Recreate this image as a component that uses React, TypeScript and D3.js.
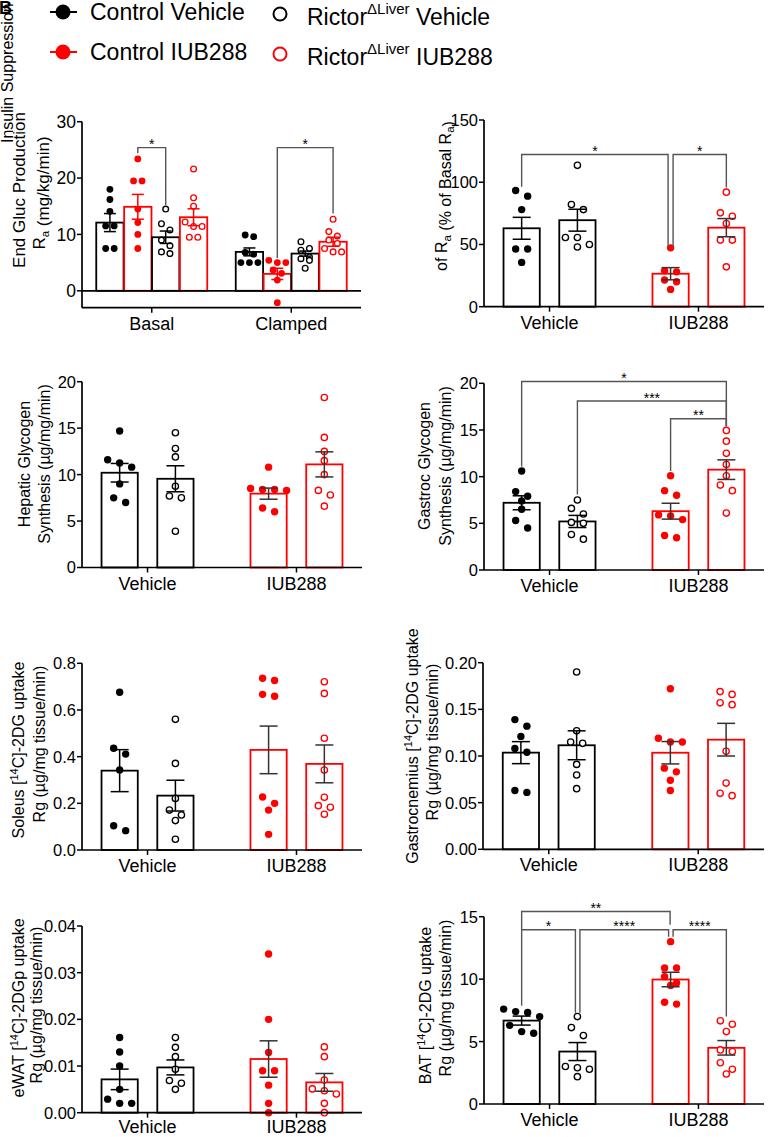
import React from "react";
import * as d3 from "d3";

const FONT = "'Liberation Sans', Arial, Helvetica, sans-serif";
const RED = "#ff0000";
const BLK = "#000000";

type Kind = "cv" | "rv" | "ci" | "ri";
const STYLE: Record<Kind, { color: string; filled: boolean }> = {
  cv: { color: BLK, filled: true },
  rv: { color: BLK, filled: false },
  ci: { color: RED, filled: true },
  ri: { color: RED, filled: false },
};

// ---------- Panel A: endogenous glucose production ----------
const aGroups = ["Basal", "Clamped"];
const aSeries: Kind[] = ["cv", "ci", "rv", "ri"];
const aMeans = [12.1, 14.9, 9.5, 13.05, 6.9, 3.0, 6.6, 8.7];
const aSem = [1.6, 2.2, 1.1, 1.5, 0.7, 1.0, 0.45, 0.8];
const aPoints = [
  [18.0, 16.2, 14.1, 11.5, 11.5, 7.5, 7.5],
  [23.4, 19.5, 19.5, 14.5, 12.1, 10.0, 7.5],
  [14.5, 11.9, 10.8, 9.0, 8.0, 6.6, 6.9],
  [21.6, 16.5, 15.0, 12.2, 11.4, 11.4, 9.5, 9.5],
  [9.6, 9.9, 6.8, 6.5, 5.0, 5.0, 5.0],
  [5.0, 5.0, 5.4, 3.7, 3.1, 1.9, -2.1],
  [7.5, 8.7, 7.2, 5.7, 6.0, 5.4, 4.0],
  [12.7, 9.7, 10.5, 9.0, 6.9, 7.5, 6.9, 8.4],
];
const aTicks = [0, 10, 20, 30];
const aBrackets = [
  { from: 1, to: 2, y: 25.4, l1: 24.4, l2: 15.2, label: "*" },
  { from: 5, to: 7, y: 25.4, l1: 5.8, l2: 13.7, label: "*" },
];

// shared for two-group panels (bar order: Vehicle ctrl, Vehicle rictor, IUB288 ctrl, IUB288 rictor)
const groups2 = ["Vehicle", "IUB288"];
const series2: Kind[] = ["cv", "rv", "ci", "ri"];

// ---------- Panel B: insulin suppression of Ra ----------
const bMeans = [63, 69.5, 26.5, 63.5];
const bSem = [8.8, 8.8, 4.9, 7.3];
const bPoints = [
  [93.3, 88.8, 78, 46.3, 46.3, 35.6],
  [113.6, 82.1, 78, 55.6, 55.6, 48, 50],
  [47.3, 28.9, 28, 21.4, 20, 13.9],
  [92, 72.7, 75.4, 66.8, 53.5, 53.5, 32],
];
const bTicks = [0, 50, 100, 150];
const bBrackets = [
  { from: 0, to: 2, y: 122.3, l1: 96.3, l2: 48.2, label: "*", dx2: -2.5 },
  { from: 2, to: 3, y: 122.3, l1: 48.2, l2: 95.8, label: "*", dx1: 2.5 },
];

// ---------- Panel C: hepatic glycogen synthesis ----------
const cMeans = [10.2, 9.55, 7.95, 11.1];
const cSem = [1.0, 1.4, 0.6, 1.35];
const cPoints = [
  [14.7, 11.25, 10.8, 11.6, 9.0, 7.0, 7.5],
  [14.5, 12.8, 11.9, 8.75, 7.7, 7.5, 3.9],
  [10.8, 8.3, 8.4, 8.5, 8.4, 6.0, 6.4],
  [18.3, 14.0, 12.5, 11.5, 10.0, 8.3, 7.8, 6.6],
];
const cTicks = [0, 5, 10, 15, 20];

// ---------- Panel D: gastroc glycogen synthesis ----------
const dMeans = [7.2, 5.2, 6.3, 10.75];
const dSem = [0.75, 0.65, 0.85, 1.05];
const dPoints = [
  [10.6, 7.9, 8.4, 7.4, 6.5, 5.3, 4.5],
  [7.5, 6.6, 6.0, 5.1, 5.0, 3.3, 3.8],
  [10.1, 8.0, 8.5, 5.8, 5.9, 5.4, 3.45, 3.7],
  [14.95, 13.8, 12.5, 11.3, 10.1, 9.1, 8.5, 6.1],
];
const dTicks = [0, 5, 10, 15, 20];
const dBrackets = [
  { from: 0, to: 3, y: 20.2, l1: 11.1, l2: 15.4, label: "*" },
  { from: 1, to: 3, y: 18.1, l1: 8.1, l2: 15.4, label: "***" },
  { from: 2, to: 3, y: 16.2, l1: 10.6, l2: 15.4, label: "**" },
];

// ---------- Panel E: soleus uptake ----------
const eMeans = [0.34, 0.233, 0.429, 0.369];
const eSem = [0.09, 0.066, 0.102, 0.081];
const ePoints = [
  [0.676, 0.436, 0.411, 0.343, 0.104, 0.083],
  [0.56, 0.371, 0.221, 0.15, 0.171, 0.126, 0.046],
  [0.736, 0.726, 0.667, 0.659, 0.2, 0.227, 0.171, 0.067],
  [0.721, 0.671, 0.479, 0.343, 0.226, 0.19, 0.183, 0.153],
];
const eTicks = [0, 0.2, 0.4, 0.6, 0.8];

// ---------- Panel F: gastrocnemius uptake ----------
const fMeans = [0.1036, 0.1115, 0.1035, 0.1175];
const fSem = [0.0118, 0.0155, 0.012, 0.0175];
const fPoints = [
  [0.139, 0.132, 0.121, 0.104, 0.108, 0.061, 0.063],
  [0.19, 0.127, 0.115, 0.1136, 0.091, 0.0796, 0.065],
  [0.172, 0.119, 0.115, 0.115, 0.083, 0.087, 0.074, 0.063],
  [0.166, 0.169, 0.155, 0.157, 0.105, 0.071, 0.0575, 0.06],
];
const fTicks = [0, 0.05, 0.1, 0.15, 0.2];

// ---------- Panel G: eWAT uptake ----------
const gMeans = [0.00714, 0.0097, 0.0115, 0.0065];
const gSem = [0.0022, 0.0016, 0.0039, 0.0019];
const gPoints = [
  [0.0161, 0.013, 0.01, 0.005, 0.0029, 0.002, 0.002],
  [0.0161, 0.014, 0.012, 0.0093, 0.0063, 0.0069, 0.005],
  [0.034, 0.02, 0.0129, 0.009, 0.009, 0.0059, 0.002, 0.0],
  [0.0141, 0.012, 0.007, 0.0051, 0.0047, 0.004, 0.002, 0.0],
];
const gTicks = [0, 0.01, 0.02, 0.03, 0.04];

// ---------- Panel H: BAT uptake ----------
const hMeans = [6.68, 4.2, 9.97, 4.5];
const hSem = [0.36, 0.72, 0.58, 0.58];
const hPoints = [
  [7.0, 7.6, 7.33, 7.4, 6.3, 5.67, 5.8],
  [7.0, 6.12, 5.48, 3.0, 2.9, 2.78, 2.19],
  [13.0, 10.9, 10.9, 10.2, 9.7, 9.5, 8.0, 8.15],
  [6.66, 6.39, 5.8, 4.33, 4.2, 3.3, 2.78, 2.4],
];
const hTicks = [0, 5, 10, 15];
const hBrackets = [
  { from: 0, to: 2, y: 15.42, l1: 13.95, l2: 14.35, label: "**", dx2: -0.5 },
  { from: 0, to: 1, y: 13.95, l1: 7.86, l2: 7.3, label: "*", dx2: -2 },
  { from: 1, to: 2, y: 13.95, l1: 7.3, l2: 13.4, label: "****", dx1: 2.5, dx2: -2 },
  { from: 2, to: 3, y: 13.95, l1: 13.4, l2: 7.0, label: "****", dx1: 2.5 },
];

type Bracket = { from: number; to: number; y: number; l1: number; l2: number; label: string; dx1?: number; dx2?: number };

function dotOffsets(vals: number[], yS: (v: number) => number, r: number, spacing: number) {
  const idx = vals.map((_, i) => i).sort((a, b) => vals[b] - vals[a]);
  const offs = new Array(vals.length).fill(0);
  let row: number[] = [];
  let start = 0;
  const flush = () => {
    row.forEach((i, k) => {
      offs[i] = (k - (row.length - 1) / 2) * spacing;
    });
  };
  for (const i of idx) {
    const py = yS(vals[i]);
    if (row.length && py - start < 2 * r + 0.6) row.push(i);
    else {
      flush();
      row = [i];
      start = py;
    }
  }
  flush();
  return offs;
}

type PanelProps = {
  groups: string[];
  series: Kind[];
  perGroup: number;
  means: number[];
  sems: number[];
  points: number[][];
  ticks: number[];
  fmt: string;
  domain: [number, number];
  left: number;
  right: number;
  top: number;
  bottom: number;
  groupPad: number;
  half: number;
  subPad: number;
  cap: number;
  r: number;
  spacing: number;
  tickFs: number;
  catFs: number;
  catDy?: number;
  errColored?: boolean;
  zeroLine?: boolean;
  brackets?: Bracket[];
};

function Panel(p: PanelProps) {
  const y = d3.scaleLinear().domain(p.domain).range([p.bottom, p.top]);
  const xg = d3.scalePoint<string>().domain(p.groups).range([p.left, p.right]).padding(p.groupPad);
  const n = p.perGroup;
  const xs = d3
    .scaleBand<number>()
    .domain(d3.range(n))
    .range([-p.half, p.half])
    .paddingInner(p.subPad);
  const bw = xs.bandwidth();
  const kind = (i: number) => STYLE[p.series[i % p.series.length]];
  const cx = (i: number) => (xg(p.groups[Math.floor(i / n)]) as number) + (xs(i % n) as number) + bw / 2;
  const base = y(Math.max(0, p.domain[0]));
  const f = d3.format(p.fmt);
  return (
    <g fontFamily={FONT}>
      {p.means.map((m, i) => {
        const st = kind(i);
        return (
          <rect
            key={"b" + i}
            x={cx(i) - bw / 2}
            y={Math.min(y(m), base)}
            width={bw}
            height={Math.abs(base - y(m))}
            fill="#fff"
            stroke={st.color}
            strokeWidth={1.8}
          />
        );
      })}
      {p.points.map((vals, i) => {
        const st = kind(i);
        const offs = dotOffsets(vals, y, p.r, p.spacing);
        return vals.map((v, k) =>
          st.filled ? (
            <circle key={"p" + i + "_" + k} cx={cx(i) + offs[k]} cy={y(v)} r={p.r} fill={st.color} />
          ) : (
            <circle
              key={"p" + i + "_" + k}
              cx={cx(i) + offs[k]}
              cy={y(v)}
              r={p.r - 0.55}
              fill="#fff"
              stroke={st.color}
              strokeWidth={1.35}
            />
          )
        );
      })}
      {p.means.map((m, i) => {
        const st = kind(i);
        const c = p.errColored ? st.color : st.color === RED ? "#333" : BLK;
        const x = cx(i);
        const y1 = y(m + p.sems[i]);
        const y2 = y(m - p.sems[i]);
        return (
          <g key={"e" + i} stroke={c} strokeWidth={1.5} fill="none">
            <line x1={x} x2={x} y1={y1} y2={y2} />
            <line x1={x - p.cap} x2={x + p.cap} y1={y1} y2={y1} />
            <line x1={x - p.cap} x2={x + p.cap} y1={y2} y2={y2} />
          </g>
        );
      })}
      {p.zeroLine && <line x1={p.left} x2={p.right} y1={y(0)} y2={y(0)} stroke={BLK} strokeWidth={1.7} />}
      <line x1={p.left} x2={p.left} y1={y(p.domain[1])} y2={p.bottom} stroke={BLK} strokeWidth={1.7} />
      <line x1={p.left} x2={p.right} y1={p.bottom} y2={p.bottom} stroke={BLK} strokeWidth={1.7} />
      {p.ticks.map((t) => (
        <g key={"t" + t}>
          <line x1={p.left - 5} x2={p.left} y1={y(t)} y2={y(t)} stroke={BLK} strokeWidth={1.5} />
          <text x={p.left - 6} y={y(t)} dy="0.36em" textAnchor="end" fontSize={p.tickFs} fill={BLK}>
            {f(t)}
          </text>
        </g>
      ))}
      {p.groups.map((g) => (
        <g key={"g" + g}>
          <line x1={xg(g)} x2={xg(g)} y1={p.bottom} y2={p.bottom + 5} stroke={BLK} strokeWidth={1.5} />
          <text x={xg(g)} y={p.bottom + (p.catDy ?? 22)} textAnchor="middle" fontSize={p.catFs} fill={BLK}>
            {g}
          </text>
        </g>
      ))}
      {(p.brackets || []).map((b, i) => {
        const xa = cx(b.from) + (b.dx1 || 0);
        const xb = cx(b.to) + (b.dx2 || 0);
        return (
          <g key={"s" + i}>
            <path
              d={`M${xa},${y(b.l1)}V${y(b.y)}H${xb}V${y(b.l2)}`}
              fill="none"
              stroke="#555"
              strokeWidth={1.4}
            />
            <text x={(xa + xb) / 2} y={y(b.y) + 1.5} textAnchor="middle" fontSize={14} fill={BLK}>
              {b.label}
            </text>
          </g>
        );
      })}
    </g>
  );
}

function RotLabel({ x, cy, fs = 16, children }: { x: number; cy: number; fs?: number; children: React.ReactNode }) {
  return (
    <text
      transform={`translate(${x},${cy}) rotate(-90)`}
      textAnchor="middle"
      fontFamily={FONT}
      fontSize={fs}
      fill={BLK}
    >
      {children}
    </text>
  );
}

const Sub = ({ t }: { t: string }) => (
  <>
    <tspan fontSize={11.5} dy={3.5}>
      {t}
    </tspan>
    <tspan dy={-3.5}>{""}</tspan>
  </>
);

function C14({ pre, post }: { pre: string; post: string }) {
  return (
    <>
      <tspan>{pre} [</tspan>
      <tspan fontSize={11} dy={-6}>
        14
      </tspan>
      <tspan dy={6}>C]-{post}</tspan>
    </>
  );
}

const two = {
  groups: groups2,
  series: series2,
  perGroup: 2,
  groupPad: 0.44,
  half: 46,
  subPad: 0.35,
  cap: 9,
  r: 3.7,
  spacing: 12,
  tickFs: 16.5,
  catFs: 18,
};

export default function App() {
  return (
    <svg
      width={768}
      height={1137}
      viewBox="0 0 768 1137"
      style={{ position: "absolute", left: 0, top: 0, background: "#fff" }}
    >
      <rect x={0} y={0} width={768} height={1137} fill="#fff" />
      <text transform="translate(13,143) rotate(-90)" fontFamily={FONT} fontSize={16} fill={BLK}>
        Insulin Suppression
      </text>
      <text x={-1} y={14} fontFamily={FONT} fontSize={18} fontWeight="bold" fill={BLK}>
        B
      </text>

      {/* legend */}
      <g fontFamily={FONT} fontSize={23} fill={BLK}>
        <line x1={50} x2={77} y1={12} y2={12} stroke={BLK} strokeWidth={2} />
        <circle cx={63} cy={12} r={7.5} fill={BLK} />
        <text x={90} y={20}>Control Vehicle</text>
        <line x1={50} x2={77} y1={52} y2={52} stroke={RED} strokeWidth={2} />
        <circle cx={63} cy={52} r={7.5} fill={RED} />
        <text x={90} y={60}>Control IUB288</text>
        <circle cx={280} cy={14} r={6.5} fill="#fff" stroke={BLK} strokeWidth={2} />
        <text x={307} y={25}>
          Rictor
          <tspan fontSize={15} dy={-11}>
            ΔLiver
          </tspan>
          <tspan dy={11}> Vehicle</tspan>
        </text>
        <circle cx={280} cy={54} r={6.5} fill="#fff" stroke={RED} strokeWidth={2} />
        <text x={307} y={65}>
          Rictor
          <tspan fontSize={15} dy={-11}>
            ΔLiver
          </tspan>
          <tspan dy={11}> IUB288</tspan>
        </text>
      </g>

      {/* A */}
      <Panel
        groups={aGroups}
        series={aSeries}
        perGroup={4}
        means={aMeans}
        sems={aSem}
        points={aPoints}
        ticks={aTicks}
        fmt="d"
        domain={[-3, 30]}
        left={82}
        right={361}
        top={121.7}
        bottom={307.7}
        groupPad={0.5}
        half={55.5}
        subPad={0.02}
        cap={6}
        r={3.4}
        spacing={8.5}
        tickFs={17.5}
        catFs={18}
        errColored
        zeroLine
        brackets={aBrackets}
      />
      <RotLabel x={25} cy={190} fs={17}>
        End Gluc Production
      </RotLabel>
      <RotLabel x={45} cy={193} fs={17}>
        R<Sub t="a" /> (mg/kg/min)
      </RotLabel>

      {/* B */}
      <Panel
        {...two}
        means={bMeans}
        sems={bSem}
        points={bPoints}
        ticks={bTicks}
        fmt="d"
        domain={[0, 150]}
        left={484}
        right={764}
        top={120}
        bottom={306.7}
        brackets={bBrackets}
      />
      <RotLabel x={447} cy={196}>
        of R<Sub t="a" /> (% of Basal R<Sub t="a" />)
      </RotLabel>

      {/* C */}
      <Panel
        {...two}
        means={cMeans}
        sems={cSem}
        points={cPoints}
        ticks={cTicks}
        fmt="d"
        domain={[0, 20]}
        left={82}
        right={362}
        top={381.7}
        bottom={567.5}
      />
      <RotLabel x={29.5} cy={464}>
        Hepatic Glycogen
      </RotLabel>
      <RotLabel x={50} cy={464}>
        Synthesis (µg/mg/min)
      </RotLabel>

      {/* D */}
      <Panel
        {...two}
        means={dMeans}
        sems={dSem}
        points={dPoints}
        ticks={dTicks}
        fmt="d"
        domain={[0, 20]}
        left={484}
        right={764}
        top={383.3}
        bottom={570}
        brackets={dBrackets}
      />
      <RotLabel x={430} cy={466}>
        Gastroc Glycogen
      </RotLabel>
      <RotLabel x={450.5} cy={466}>
        Synthesis (µg/mg/min)
      </RotLabel>

      {/* E */}
      <Panel
        {...two}
        means={eMeans}
        sems={eSem}
        points={ePoints}
        ticks={eTicks}
        fmt=".1f"
        domain={[0, 0.8]}
        left={82}
        right={362}
        top={663.3}
        bottom={850}
      />
      <RotLabel x={24} cy={750}>
        <C14 pre="Soleus" post="2DG uptake" />
      </RotLabel>
      <RotLabel x={45} cy={744}>
        Rg (µg/mg tissue/min)
      </RotLabel>

      {/* F */}
      <Panel
        {...two}
        means={fMeans}
        sems={fSem}
        points={fPoints}
        ticks={fTicks}
        fmt=".2f"
        domain={[0, 0.2]}
        left={483}
        right={764}
        top={662.7}
        bottom={849.3}
      />
      <RotLabel x={418} cy={746}>
        <C14 pre="Gastrocnemius" post="2DG uptake" />
      </RotLabel>
      <RotLabel x={438} cy={742}>
        Rg (µg/mg tissue/min)
      </RotLabel>

      {/* G */}
      <Panel
        {...two}
        means={gMeans}
        sems={gSem}
        points={gPoints}
        ticks={gTicks}
        fmt=".2f"
        domain={[0, 0.04]}
        left={82}
        right={362}
        top={926}
        bottom={1112.7}
        catDy={20.5}
      />
      <RotLabel x={23.5} cy={1008}>
        <C14 pre="eWAT" post="2DGp uptake" />
      </RotLabel>
      <RotLabel x={42} cy={1005}>
        Rg (µg/mg tissue/min)
      </RotLabel>

      {/* H */}
      <Panel
        {...two}
        means={hMeans}
        sems={hSem}
        points={hPoints}
        ticks={hTicks}
        fmt="d"
        domain={[0, 15]}
        left={484}
        right={764}
        top={916.7}
        bottom={1104}
        brackets={hBrackets}
      />
      <RotLabel x={431} cy={1005.6}>
        <C14 pre="BAT" post="2DG uptake" />
      </RotLabel>
      <RotLabel x={451} cy={998}>
        Rg (µg/mg tissue/min)
      </RotLabel>
    </svg>
  );
}
